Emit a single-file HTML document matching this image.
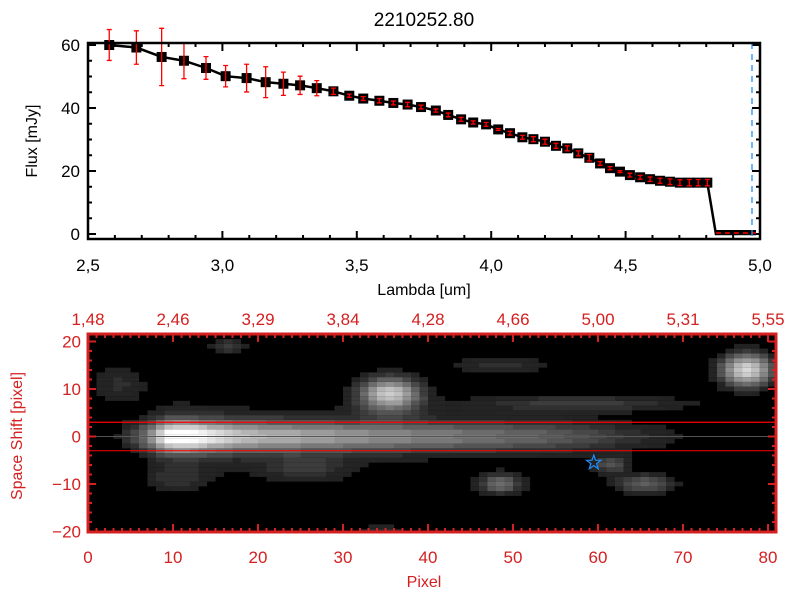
<!DOCTYPE html>
<html><head><meta charset="utf-8"><style>
body{margin:0;background:#fff}
svg{display:block;font-family:"Liberation Sans",sans-serif}
</style></head><body>
<svg id="c" width="800" height="600" viewBox="0 0 800 600"></svg>
<script>
const lambdas=[2.579,2.680,2.774,2.857,2.939,3.012,3.090,3.161,3.227,3.289,3.351,3.413,3.472,3.524,3.584,3.636,3.689,3.739,3.794,3.840,3.888,3.933,3.981,4.026,4.070,4.116,4.157,4.200,4.241,4.283,4.324,4.365,4.405,4.442,4.479,4.516,4.554,4.591,4.628,4.665,4.702,4.737,4.770,4.804];
const fluxes=[60.0,59.2,56.2,55.0,52.7,50.1,49.5,48.2,47.7,47.2,46.3,45.3,43.9,43.0,42.3,41.6,41.1,40.3,39.2,37.8,36.4,35.4,34.8,33.2,32.0,30.7,30.1,29.3,28.0,27.2,25.6,24.2,22.4,20.9,19.8,18.7,18.0,17.4,16.9,16.6,16.3,16.3,16.3,16.3];
const errors=[4.9,5.3,9.1,5.7,3.6,3.4,4.4,4.9,3.7,2.9,2.4,1.0,0.5,0.6,0.7,0.6,0.7,0.6,0.5,0.6,0.6,0.5,0.6,0.3,0.6,0.6,0.8,0.8,0.8,0.8,0.8,1.0,0.6,0.5,0.3,0.6,0.6,0.7,0.8,0.9,0.9,1.0,1.0,1.0];
const zeroLambdas=[4.836,4.985];
const xTicks=[2.5,3.0,3.5,4.0,4.5,5.0];
const yTicks=[0,20,40,60];
const pixTicks=[0,10,20,30,40,50,60,70,80];
const waveLabels=["1.48","2.46","3.29","3.84","4.28","4.66","5.00","5.31","5.55"];
const shiftTicks=[-20,-10,0,10,20];
const traceAmp=[0,0,0,20,40,60,90,130,180,220,240,240,230,215,200,190,180,170,165,160,155,150,150,148,145,142,140,138,135,132,130,128,125,122,120,118,116,114,112,110,108,106,104,102,100,98,96,94,92,90,88,86,84,82,80,76,72,68,64,60,56,52,48,44,40,36,32,28,24,20,15,10,0,0,0,0,0,0,0,0,0];
const blobX=[35,77,48,65,61,16,3,34,48,58,25,10];
const blobY=[9,14,-10,-10,-6,19,11,-20,15,7,-7,-9];
const blobA=[200,215,110,95,80,60,45,50,45,55,45,40];
const blobSX=[2.5,2.2,1.8,2.5,1.5,1.5,2.5,2,5,10,4,3];
const blobSY=[2.5,2.5,1.5,1.5,1.2,1.2,3,1.2,1.5,1.3,2,2];
const starPix=[59.5,-5.5];

const NS="http://www.w3.org/2000/svg",svg=document.getElementById('c');
function mk(t,a,p){const e=document.createElementNS(NS,t);for(const k in a)e.setAttribute(k,a[k]);(p||svg).appendChild(e);return e;}
function tx(x,y,s,a,p){const e=mk('text',Object.assign({x:x,y:y},a),p);e.textContent=s;return e;}
const xS=l=>88+(l-2.5)*268.8, yS=f=>234-f*3.15;
const t=tx(424,26,"2210252.80",{"text-anchor":"middle","font-size":"19"});

const g1=mk('g',{});
for(let v=2.5;v<=5.001;v+=0.1){const x=xS(v),maj=Math.abs(v*2-Math.round(v*2))<1e-6,L=maj?8:4;
 mk('line',{x1:x,x2:x,y1:239,y2:239-L,stroke:'#000','stroke-width':2},g1);mk('line',{x1:x,x2:x,y1:43,y2:43+L,stroke:'#000','stroke-width':2},g1);}
xTicks.forEach(v=>{const e=tx(xS(v),271,v.toFixed(1).replace('.',','),{"text-anchor":"middle","font-size":"17"},g1);});
for(let v=0;v<=60;v+=5){const y=yS(v),L=v%20==0?8:4;
 mk('line',{x1:88,x2:88+L,y1:y,y2:y,stroke:'#000','stroke-width':2},g1);mk('line',{x1:760,x2:760-L,y1:y,y2:y,stroke:'#000','stroke-width':2},g1);}
yTicks.forEach(v=>{const e=tx(80,yS(v)+6,String(v),{"text-anchor":"end","font-size":"17"},g1);});
let xl=tx(424,295,"Lambda [um]",{"text-anchor":"middle","font-size":"16"},g1);
let yl=tx(0,0,"Flux [mJy]",{"text-anchor":"middle","font-size":"16",transform:"translate(37,141) rotate(-90)"},g1);
let pts=lambdas.map((l,i)=>xS(l)+','+yS(fluxes[i]));
pts.push(xS(zeroLambdas[0])+','+yS(0),xS(zeroLambdas[1])+','+yS(0));
const ln=mk('polyline',{points:pts.join(' '),fill:'none',stroke:'#000','stroke-width':2.5},g1);
const zb=mk('rect',{x:xS(zeroLambdas[0]),y:yS(0)-4,width:xS(zeroLambdas[1])-xS(zeroLambdas[0]),height:5,fill:'#000'},g1);
mk('line',{x1:xS(zeroLambdas[0]),x2:xS(zeroLambdas[1]),y1:yS(0)-1,y2:yS(0)-1,stroke:'#f00','stroke-width':1.5,'stroke-dasharray':'5,4'},g1);
lambdas.forEach((l,i)=>{const x=xS(l),y=yS(fluxes[i]);
 const m=mk('rect',{x:x-5,y:y-5,width:10,height:10,fill:'#000'},g1);
 const e=mk('path',{d:`M${x},${yS(fluxes[i]+errors[i])}V${yS(fluxes[i]-errors[i])}M${x-2.5},${yS(fluxes[i]+errors[i])}h5M${x-2.5},${yS(fluxes[i]-errors[i])}h5`,stroke:'#f00','stroke-width':1.3,fill:'none'},g1);
 });
const bl=mk('line',{x1:752,x2:752,y1:43,y2:239,stroke:'#1e90ff','stroke-width':1.3,'stroke-dasharray':'6,5'},g1);
mk('rect',{x:88,y:43,width:672,height:196,fill:'none',stroke:'#000','stroke-width':2.5},g1);
const pS=p=>88+p*8.5, sS=s=>436.5-s*4.75;
const g2=mk('g',{});
mk('rect',{x:88,y:334,width:688,height:198,fill:'#000'},g2);
for(let px=0;px<81;px++){for(let sy=-21;sy<=21;sy++){
 let v=traceAmp[px]*(Math.exp(-sy*sy/(2*2.2*2.2))+0.22*Math.exp(-sy*sy/(2*5.5*5.5)));
 for(let b=0;b<blobX.length;b++){const dx=(px-blobX[b])/blobSX[b],dy=(sy-blobY[b])/blobSY[b];v+=blobA[b]*Math.exp(-(dx*dx+dy*dy)/2);}
 if(v<24)continue;v=Math.min(255,Math.max(34,Math.round(v/12)*12));
 const y0=Math.max(334,sS(sy+0.5)),y1=Math.min(532,sS(sy-0.5));if(y1<=y0)continue;
 mk('rect',{x:pS(px),y:y0,width:Math.min(8.6,776-pS(px)),height:y1-y0,fill:`rgb(${v},${v},${v})`},g2);}}
mk('line',{x1:88,x2:776,y1:sS(3),y2:sS(3),stroke:'#f00','stroke-width':1.3},g2);
mk('line',{x1:88,x2:776,y1:sS(-3),y2:sS(-3),stroke:'#f00','stroke-width':1},g2);
mk('line',{x1:88,x2:776,y1:sS(0),y2:sS(0),stroke:'#555','stroke-width':1},g2);
const[sx,sy]=[pS(starPix[0]),sS(starPix[1])];let sp=[];for(let k=0;k<10;k++){const r=k%2?3:7.5,a=-Math.PI/2+k*Math.PI/5;sp.push((sx+r*Math.cos(a)).toFixed(1)+','+(sy+r*Math.sin(a)).toFixed(1));}
const st=mk('polygon',{points:sp.join(' '),fill:'none',stroke:'#1e90ff','stroke-width':1.2},g2);
const R='#d42020';
for(let p=0;p<=80;p++){const x=pS(p),L=p%10==0?8:4;mk('line',{x1:x,x2:x,y1:532,y2:532-L,stroke:R,'stroke-width':2},g2);mk('line',{x1:x,x2:x,y1:334,y2:334+L,stroke:R,'stroke-width':2},g2);}
for(let s=-20;s<=20;s+=2){const y=sS(s),L=s%10==0?8:4;mk('line',{x1:88,x2:88+L,y1:y,y2:y,stroke:R,'stroke-width':2},g2);mk('line',{x1:776,x2:776-L,y1:y,y2:y,stroke:R,'stroke-width':2},g2);}
mk('rect',{x:88,y:334,width:688,height:198,fill:'none',stroke:R,'stroke-width':3},g2);
pixTicks.forEach((p,i)=>{let e=tx(pS(p),563,String(p),{"text-anchor":"middle","font-size":"17",fill:R},g2);
 e=tx(pS(p),325,waveLabels[i].replace('.',','),{"text-anchor":"middle","font-size":"17",fill:R},g2);});
shiftTicks.forEach(s=>{const e=tx(81,sS(s)+6,s<0?'\u2212'+(-s):String(s),{"text-anchor":"end","font-size":"17",fill:R},g2);});
let pl=tx(424,587,"Pixel",{"text-anchor":"middle","font-size":"16",fill:R},g2);
let sl=tx(0,0,"Space Shift [pixel]",{"text-anchor":"middle","font-size":"16",fill:R,transform:"translate(22,436) rotate(-90)"},g2);
</script>
</body></html>
